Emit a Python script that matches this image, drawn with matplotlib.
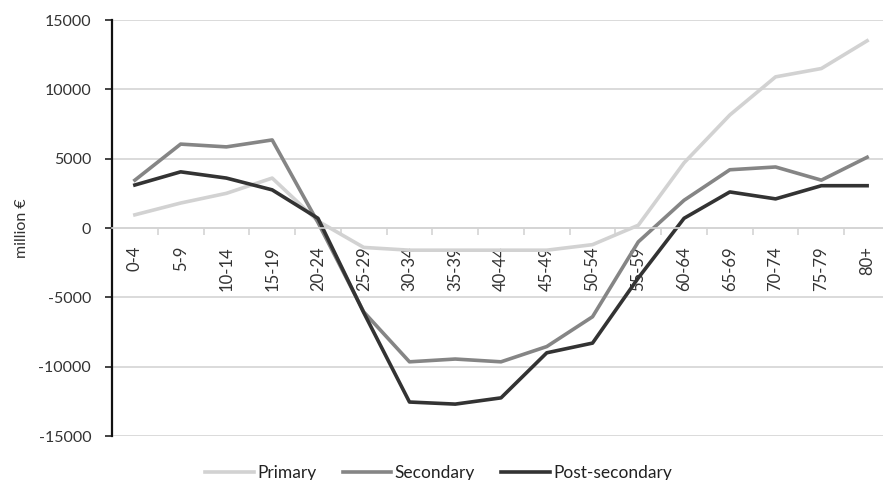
import matplotlib
matplotlib.use("Agg")
import matplotlib.pyplot as plt
import numpy as np

categories = ["0-4", "5-9", "10-14", "15-19", "20-24", "25-29", "30-34", "35-39",
              "40-44", "45-49", "50-54", "55-59", "60-64", "65-69", "70-74", "75-79", "80+"]
primary = [950, 1800, 2500, 3600, 500, -1400, -1600, -1600, -1600, -1600, -1200,
           200, 4700, 8150, 10900, 11500, 13500]
secondary = [3450, 6050, 5850, 6350, 400, -6050, -9650, -9450, -9650, -8550, -6400,
             -1000, 2000, 4200, 4400, 3450, 5100]
post_secondary = [3100, 4050, 3600, 2750, 700, -6100, -12550, -12700, -12250, -9000, -8300,
                  -3600, 700, 2600, 2100, 3050, 3050]
yticks = [-15000, -10000, -5000, 0, 5000, 10000, 15000]

plt.rcParams['font.family'] = ['Lato', 'DejaVu Sans']

fig = plt.figure(figsize=(8.83, 4.8), dpi=100)
ax = fig.add_axes([112/883, 1-436/480, (890-112)/883, (436-20)/480])

x = np.arange(len(categories))
ax.plot(x, primary, color="#d2d2d2", lw=2.6, label="Primary", solid_joinstyle="round")
ax.plot(x, secondary, color="#858585", lw=2.6, label="Secondary", solid_joinstyle="round")
ax.plot(x, post_secondary, color="#333333", lw=2.6, label="Post-secondary", solid_joinstyle="round")

ax.set_xlim(-0.5, len(categories) - 0.5)
ax.set_ylim(-15000, 15000)
ax.set_yticks(yticks)
ax.set_yticklabels([str(v) for v in yticks], fontsize=11.5, color="#333333")
ax.yaxis.grid(True, color="#d4d4d4", lw=1.2)
ax.set_axisbelow(True)
ax.tick_params(axis='y', length=5, width=1.2, color="#222222", pad=10)

for s in ["top", "right"]:
    ax.spines[s].set_visible(False)
ax.spines["left"].set_linewidth(1.6)
ax.spines["left"].set_color("#111111")
ax.spines["bottom"].set_position(("data", 0))
ax.spines["bottom"].set_color("#d4d4d4")
ax.spines["bottom"].set_linewidth(1.2)

ax.set_xticks(x)
ax.set_xticklabels(categories, rotation=90, fontsize=12, color="#333333", va="top")
ax.tick_params(axis='x', length=0, pad=13)
ax.set_xticks(np.arange(len(categories) + 1) - 0.5, minor=True)
ax.tick_params(axis='x', which='minor', length=5, color="#d4d4d4", width=1.2)

ax.set_ylabel("million €", fontsize=11.5, color="#333333", labelpad=7)

leg = fig.legend(loc="lower center", bbox_to_anchor=(0.497, -0.035), ncol=3, frameon=False,
                 fontsize=12.5, handlelength=2.8, handletextpad=0.2, columnspacing=1.5)
for t in leg.get_texts():
    t.set_color("#222222")

fig.savefig("out.png", dpi=100)
